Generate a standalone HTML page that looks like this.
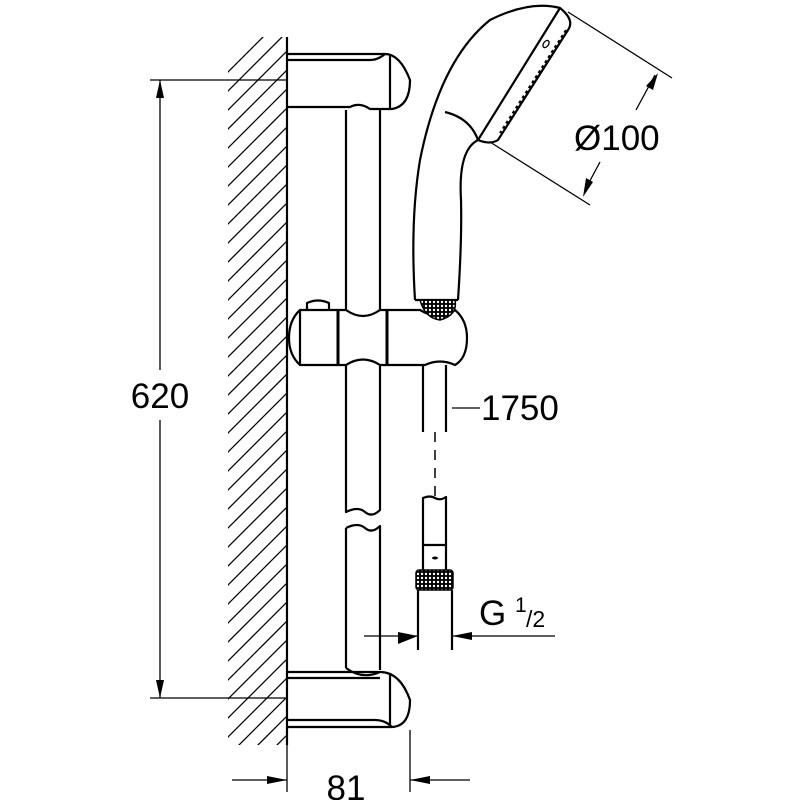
<!DOCTYPE html>
<html><head><style>html,body{margin:0;padding:0;background:#fff}svg{display:block}</style></head>
<body>
<svg width="800" height="800" viewBox="0 0 800 800" xmlns="http://www.w3.org/2000/svg" font-family="Liberation Sans, sans-serif">
<defs>
<clipPath id="wc"><rect x="228" y="37" width="59" height="708"/></clipPath>
<pattern id="kn" width="4" height="4" patternUnits="userSpaceOnUse"><rect width="4" height="4" fill="#000"/><circle cx="2" cy="2" r="1.2" fill="#fff"/></pattern>
</defs>
<g fill="none" stroke="#000" stroke-width="1.3" clip-path="url(#wc)">
<g id="h">
<line x1="220" y1="80" x2="300" y2="0"/><line x1="220" y1="99" x2="300" y2="19"/><line x1="220" y1="118" x2="300" y2="38"/><line x1="220" y1="137" x2="300" y2="57"/>
</g>
<use href="#h" y="76"/><use href="#h" y="152"/><use href="#h" y="228"/><use href="#h" y="304"/><use href="#h" y="380"/><use href="#h" y="456"/><use href="#h" y="532"/><use href="#h" y="608"/><use href="#h" y="684"/>
</g>
<g fill="none" stroke="#000" stroke-width="2.2" stroke-linejoin="round">
<line x1="287" y1="37" x2="287" y2="745"/>
<path d="M287 54 H385 Q400 54 410 80 Q410 106 392 109 H370 Q360 102 350 107 H287"/>
<path d="M287 60 H370 Q378 60 385 54"/>
<line x1="390" y1="55" x2="390" y2="108"/>
<path d="M346 110 V310 M380 108 V310"/>
<path d="M346 365 V512 Q358 506 365 512 T380 510 V365"/>
<path d="M346 528 Q358 522 365 528 T380 526 V670 M346 528 V668"/>
<path d="M346 668 Q362 680 380 672"/>
<path d="M287 672 H380 Q400 672 410 700 Q410 726 392 727 H287"/>
<path d="M287 678 H380 M287 720 H375 Q385 720 392 727"/>
<line x1="390" y1="673" x2="390" y2="726"/>
<path d="M300 310 H346 Q363 322 380 310 H420 Q440 322 455 310 Q467 320 467 338 Q467 358 455 365 Q440 358 425 365 H380 Q363 354 346 365 H300 Q289 355 289 338 Q289 320 300 310Z"/>
<line x1="300" y1="311" x2="300" y2="364"/>
<line x1="338" y1="311" x2="338" y2="364" stroke-width="3"/>
<line x1="387" y1="311" x2="387" y2="364" stroke-width="3"/>
<path d="M307 310 V303 Q318 298 329 303 V310"/>
<path d="M423 365 V432 M446 365 V432"/>
<line x1="435" y1="432" x2="435" y2="497" stroke-dasharray="10,8" stroke-width="1.5"/>
<path d="M423 545 V498 Q430 495 435 498 T446 497 V545 M423 545 H446 M423 570 V545 M446 570 V545"/>
<path d="M418 590 V650 M452 590 V650"/>
<path d="M415 300 Q410 220 420 160 Q440 60 490 20 Q530 0 560 8"/>
<path d="M458 300 Q462 240 461 200 Q458 150 478 140"/>
<path d="M560 8 Q575 20 568 30 L498 140 Q490 145 478 140 Z"/>
<path d="M445 112 Q470 118 478 140"/>
<path d="M415 300 H458"/>
</g>
<path d="M420 300 H455 Q458 315 440 320 Q425 318 420 300Z" fill="url(#kn)" stroke="#000" stroke-width="1.5"/>
<rect x="416" y="570" width="37" height="20" rx="3" fill="url(#kn)" stroke="#000" stroke-width="1.5"/>
<ellipse cx="435" cy="558" rx="3" ry="1.5" fill="#000"/>
<ellipse cx="546" cy="44" rx="2.5" ry="4" fill="none" stroke="#000" stroke-width="1.3" transform="rotate(35 546 44)"/>
<path d="M566 30 L500 133" stroke="#000" stroke-width="2" stroke-dasharray="3,3" fill="none"/>
<g stroke="#000" stroke-width="1.3" fill="none">
<line x1="150" y1="80" x2="287" y2="80"/><line x1="150" y1="698" x2="287" y2="698"/>
<line x1="160" y1="80" x2="160" y2="370"/><line x1="160" y1="420" x2="160" y2="698"/>
<line x1="232" y1="780" x2="287" y2="780"/><line x1="410" y1="780" x2="470" y2="780"/>
<line x1="287" y1="745" x2="287" y2="792"/><line x1="410" y1="730" x2="410" y2="792"/>
<line x1="364" y1="636" x2="418" y2="636"/><line x1="452" y1="636" x2="555" y2="636"/>
<line x1="452" y1="408" x2="480" y2="408"/>
<line x1="568" y1="12" x2="672" y2="78"/><line x1="490" y1="142" x2="590" y2="205"/>
<line x1="655" y1="75" x2="636" y2="110"/><line x1="600" y1="162" x2="585" y2="190"/>
</g>
<g fill="#000">
<polygon points="160,80 156,98 164,98"/><polygon points="160,698 156,680 164,680"/>
<polygon points="287,780 267,776 267,784"/><polygon points="410,780 430,776 430,784"/>
<polygon points="418,636 398,632 398,644"/><polygon points="452,636 472,632 472,640"/>
<polygon points="658,73 646,86 653,90"/><polygon points="583,197 586,178 593,182"/>
</g>
<g font-size="35" fill="#000">
<text x="160" y="408" text-anchor="middle">620</text>
<text x="346" y="800" text-anchor="middle">81</text>
<text x="481" y="420">1750</text>
<text x="574" y="150">Ø100</text>
<text x="479" y="625">G</text>
<text x="515" y="612" font-size="21">1</text>
<text x="526" y="627" font-size="23">/2</text>
</g>
</svg>
</body></html>
